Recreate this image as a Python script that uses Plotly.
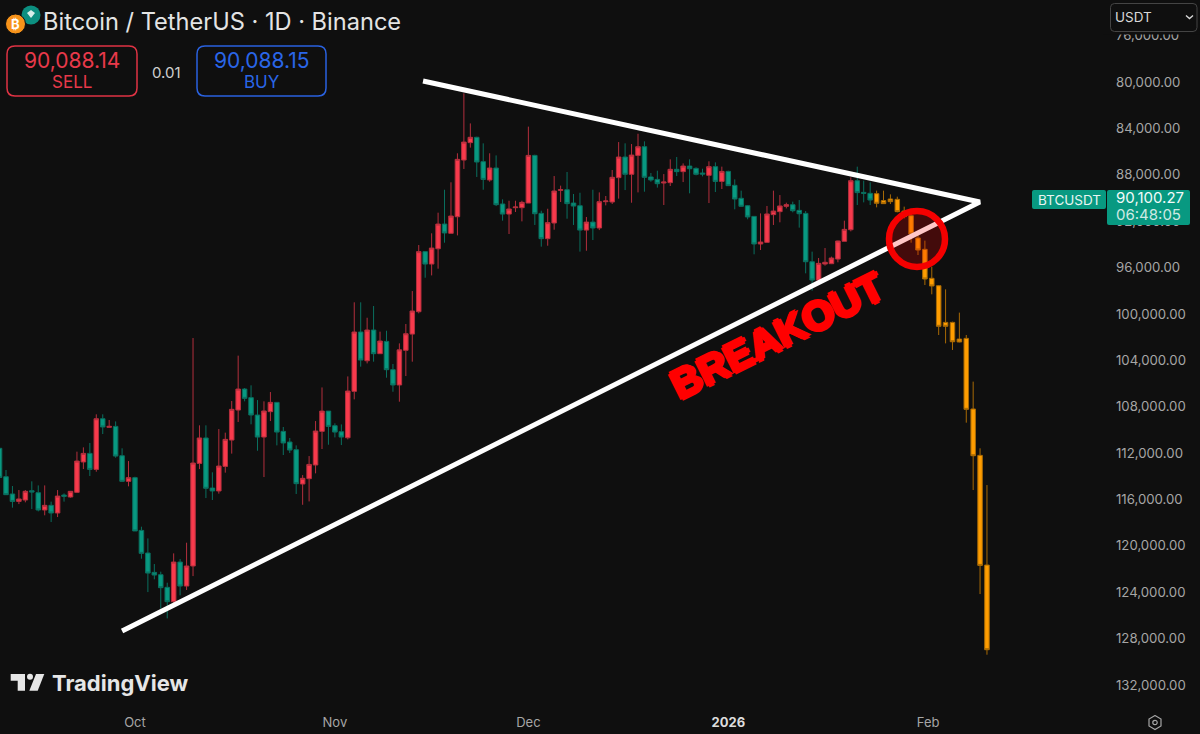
#!/usr/bin/env python3
"""BTCUSDT daily chart, inverted price scale, with triangle and breakout drawing"""

import pandas as pd
import plotly.graph_objects as go

BG = "#0f0f0f"
GREEN = "#089981"
RED = "#f83a4c"
ORANGE = "#ff9d00"
WHITE = "#e6e6e6"
GREY = "#a6a6a6"
UI_FONT = "Inter"

# daily candles from 2025-09-10
candle_start = "2025-09-10"
opens = [
    111590, 114040, 115530, 116170, 116050, 115250, 115420, 116910, 116510, 117170,
    115620, 115790, 115390, 112770, 112030, 113410, 109040, 109780, 109700, 112230,
    114440, 114120, 118670, 120620, 122290, 122490, 123580, 124820, 121400, 123470,
    121740, 112890, 110700, 115020, 115270, 113150, 110880, 108290, 106480, 107220,
    108720, 110620, 108430, 107630, 110130, 111050, 111710, 114670, 114210, 113030,
    110130, 108380, 109640, 110160, 110680, 106680, 101560, 104040, 101390, 103430,
    102370, 104810, 106130, 103140, 101740, 99810, 94630, 95700, 94380, 92250,
    93050, 91620, 86730, 85230, 84770, 86870, 88450, 87420, 90520, 91390,
    90840, 90840, 90440, 86330, 91330, 93510, 92160, 89340, 89290, 90440,
    90670, 92770, 92080, 92590, 90320, 90350, 88250, 86470, 87960, 86330,
    85580, 88190, 88400, 88710, 88680, 87530, 87730, 87250, 87450, 87850,
    88050, 87300, 88570, 87710, 88910, 90030, 90670, 91590, 93970, 93830,
    91440, 91180, 90720, 90580, 91070, 91330, 95500, 97080, 95700, 95670,
    95270, 93740, 92740, 88510, 89520, 89600,
]
highs = [
    114100, 115590, 116710, 116400, 116250, 116830, 117030, 117370, 117950, 117520,
    116190, 115850, 115450, 113380, 113980, 113610, 110360, 109780, 112400, 114440,
    114870, 118720, 121110, 123990, 122890, 125420, 126260, 124960, 124270, 123810,
    122610, 113380, 115880, 116050, 115500, 113690, 112050, 109320, 107540, 109520,
    111800, 114070, 109240, 111340, 112170, 112000, 115530, 116460, 116170, 113750,
    111650, 111280, 110650, 111310, 110820, 107370, 104550, 104270, 104120, 103460,
    105500, 106710, 107570, 105360, 104120, 99950, 96880, 96680, 96100, 93860,
    93050, 93230, 87500, 85660, 88190, 89290, 88600, 90700, 91960, 93110,
    91210, 92020, 90440, 92330, 94200, 94120, 92740, 90350, 91790, 92330,
    94630, 94550, 93630, 92770, 90640, 90520, 90060, 89320, 90410, 89520,
    89460, 88600, 89110, 90610, 88970, 88110, 88630, 89600, 88050, 88140,
    90440, 89490, 89230, 88970, 90980, 90750, 91840, 94860, 94490, 93860,
    92330, 92100, 90900, 91240, 92560, 96500, 98000, 97220, 95840, 95700,
    95550, 93740, 92880, 90610, 90380, 90610,
]
lows = [
    111590, 113460, 114840, 115190, 115190, 114440, 114790, 114790, 116190, 115190,
    115480, 115270, 111880, 111510, 111130, 108660, 108660, 109150, 109270, 111590,
    112690, 114040, 118350, 119360, 121570, 122230, 123180, 120650, 121140, 119730,
    102080, 109610, 109610, 113660, 109930, 110240, 107510, 103600, 106390, 106160,
    107430, 107540, 106740, 107630, 109750, 110700, 111340, 113900, 112260, 109240,
    106340, 108380, 109440, 109530, 105390, 99000, 99000, 100330, 99320, 101530,
    101450, 104320, 102540, 100870, 98030, 94060, 94630, 93050, 91270, 89290,
    88650, 86150, 80980, 83570, 84720, 85290, 86150, 86330, 90120, 90240,
    90240, 90240, 83850, 86270, 91100, 90930, 88110, 88940, 87760, 89660,
    89550, 91640, 89290, 89520, 89830, 87590, 85180, 85290, 85350, 84460,
    85120, 87850, 87650, 87940, 86670, 86470, 87020, 86670, 87360, 87480,
    86840, 86930, 87300, 87650, 88400, 89370, 90610, 91560, 91330, 90690,
    89370, 89750, 90410, 90320, 90180, 91130, 94630, 95180, 94320, 95060,
    93680, 91960, 88220, 87300, 88510, 88650,
]
closes = [
    114100, 115590, 116170, 115960, 115300, 115360, 116910, 116510, 117170, 115710,
    115730, 115300, 112690, 112030, 113410, 109040, 109750, 109700, 112260, 114440,
    114120, 118720, 120650, 122350, 122520, 123610, 124820, 121400, 123470, 121740,
    112860, 110700, 115040, 115270, 113120, 110820, 108230, 106480, 107280, 108720,
    110620, 108370, 107630, 110190, 111130, 111740, 114640, 114180, 112980, 110100,
    108380, 109700, 110190, 110620, 106650, 101560, 103980, 101390, 103430, 102340,
    104810, 106130, 103100, 101710, 99750, 94630, 95700, 94320, 92250, 93020,
    91560, 86670, 85180, 84770, 86900, 88400, 87420, 90580, 91390, 90950,
    90780, 90380, 86330, 91360, 93510, 92130, 89400, 89290, 90490, 90700,
    92770, 92080, 92590, 90320, 90260, 88220, 86470, 87960, 86300, 85580,
    88220, 88450, 88770, 88630, 87530, 87730, 87250, 87480, 87960, 87940,
    87300, 88570, 87710, 88940, 90090, 90720, 91640, 93970, 93800, 91380,
    91130, 90690, 90580, 91100, 91360, 95500, 97080, 95640, 95550, 95180,
    93710, 92710, 88510, 89540, 89600, 90180,
]

# pasted orange candles, slightly wider spaced than the real days
paste_start = "2026-01-24"
paste_freq = "1540min"
paste_open = [89630, 90230, 90090, 90120, 91130, 91530, 93450, 94430, 96930, 97570,
              100730, 100730, 102170, 102110, 108200, 112200, 121660]
paste_high = [90810, 90520, 90520, 91240, 91760, 93860, 94920, 97510, 98310, 101820,
              102540, 103110, 102450, 109380, 115190, 124160, 129390]
paste_low = [89370, 89370, 89690, 89890, 90750, 91330, 93050, 93680, 95930, 97510,
             97880, 100670, 99890, 101820, 105840, 111590, 114760]
paste_close = [90460, 90490, 90320, 91180, 91610, 93110, 94490, 96990, 97590, 101070,
               101070, 102400, 102420, 108230, 112230, 121690, 128960]

# triangle drawn on the chart: upper start, apex, lower start
triangle_dates = ["2025-11-14 16:00", "2026-02-09 00:00", "2025-09-29 00:00"]
triangle_prices = [79910, 90350, 127350]

price_ticks = list(range(76000, 136000, 4000))
date_ticks = ["2025-10-01", "2025-11-01", "2025-12-01", "2026-01-01", "2026-02-01"]
date_labels = ["Oct", "Nov", "Dec", "<span style='color:#dcdcdc'><b>2026</b></span>", "Feb"]

# plot area in page pixels, the rest of the page is the axis gutters
PLOT_W = 1112
PLOT_H = 705


def px(x):
    return x / PLOT_W


def py(y):
    return 1 - y / PLOT_H


def label(text, x, y, size=13, color=WHITE, anchor="center", **kwargs):
    return dict(
        text=text, xref="paper", yref="paper", x=px(x), y=py(y), showarrow=False,
        xanchor=anchor, yanchor="middle", font=dict(family=UI_FONT, size=size, color=color),
        **kwargs,
    )


def rect(x0, y0, x1, y1, color, fill=None, width=1.5):
    return dict(
        type="rect", xref="paper", yref="paper", x0=px(x0), x1=px(x1), y0=py(y0), y1=py(y1),
        line=dict(color=color, width=width), fillcolor=fill or "rgba(0,0,0,0)",
    )


def round_rect(x0, y0, x1, y1, r, color, fill=None, width=1.5):
    pts = [
        f"M{px(x0 + r)},{py(y0)}", f"L{px(x1 - r)},{py(y0)}",
        f"Q{px(x1)},{py(y0)} {px(x1)},{py(y0 + r)}", f"L{px(x1)},{py(y1 - r)}",
        f"Q{px(x1)},{py(y1)} {px(x1 - r)},{py(y1)}", f"L{px(x0 + r)},{py(y1)}",
        f"Q{px(x0)},{py(y1)} {px(x0)},{py(y1 - r)}", f"L{px(x0)},{py(y0 + r)}",
        f"Q{px(x0)},{py(y0)} {px(x0 + r)},{py(y0)}", "Z",
    ]
    return dict(
        type="path", xref="paper", yref="paper", path=" ".join(pts),
        line=dict(color=color, width=width), fillcolor=fill or "rgba(0,0,0,0)",
    )


def poly(points, color=None, fill=None, width=0):
    path = "M" + " L".join(f"{px(x)},{py(y)}" for x, y in points)
    if fill:
        path += " Z"
    return dict(
        type="path", xref="paper", yref="paper", path=path,
        line=dict(color=color or "rgba(0,0,0,0)", width=width),
        fillcolor=fill or "rgba(0,0,0,0)",
    )


def circle(cx, cy, r, fill=None, color=None, width=0):
    return dict(
        type="circle", xref="paper", yref="paper",
        x0=px(cx - r), x1=px(cx + r), y0=py(cy - r), y1=py(cy + r),
        line=dict(color=color or "rgba(0,0,0,0)", width=width),
        fillcolor=fill or "rgba(0,0,0,0)",
    )


fig = go.Figure()

fig.add_trace(go.Candlestick(
    x=pd.date_range(candle_start, periods=len(opens), freq="D"),
    open=opens, high=highs, low=lows, close=closes,
    increasing=dict(line=dict(color="#0a6f5f", width=1), fillcolor=GREEN),
    decreasing=dict(line=dict(color="#b32f3d", width=1), fillcolor=RED),
    whiskerwidth=0, hoverinfo="skip", showlegend=False,
))
fig.add_trace(go.Candlestick(
    x=pd.date_range(paste_start, periods=len(paste_open), freq=paste_freq),
    open=paste_open, high=paste_high, low=paste_low, close=paste_close,
    increasing=dict(line=dict(color="#a86a05", width=1), fillcolor=ORANGE),
    decreasing=dict(line=dict(color="#a86a05", width=1), fillcolor=ORANGE),
    whiskerwidth=0, hoverinfo="skip", showlegend=False,
))
fig.add_trace(go.Scatter(
    x=triangle_dates, y=triangle_prices, mode="lines",
    line=dict(color="white", width=5), hoverinfo="skip", showlegend=False,
))

shapes = [
    # breakout ring
    circle(917, 239, 28, fill="rgba(255,0,0,0.22)", color="#f50000", width=6.5),
    # symbol icons
    circle(31, 15, 9.5, fill="#0c8f80"),
    poly([(27, 13), (31, 10), (35, 13), (31, 18)], fill="#d8eeea"),
    circle(15.5, 24, 10, fill="#f7931a", color=BG, width=1),
    # sell / buy boxes
    round_rect(7, 46, 137, 96, 8, "#e03344"),
    round_rect(197, 46, 326, 96, 8, "#2a62e0"),
    # currency dropdown, hides the clipped tick beneath it
    rect(1103, 0, 1200, 34.5, BG, fill=BG, width=0),
    round_rect(1110.5, 3.5, 1197, 31.5, 4, "#444444", fill=BG, width=1),
    poly([(1186, 15.5), (1189.5, 18.5), (1193, 15.5)], color="#d8d8d8", width=1.4),
    # last price tag
    round_rect(1032, 190, 1106, 209, 2, GREEN, fill=GREEN, width=0),
    round_rect(1107, 190, 1190, 225, 2, GREEN, fill=GREEN, width=0),
    # TradingView mark
    poly([(10.7, 674), (25, 674), (25, 690.7), (17.7, 690.7), (17.7, 680.7), (10.7, 680.7)], fill="#e6e6e6"),
    circle(30, 676.7, 3, fill="#e6e6e6"),
    poly([(36, 674), (44.3, 674), (37.7, 690.7), (29.3, 690.7)], fill="#e6e6e6"),
    # settings icon
    poly([(1155, 715.5), (1161, 719), (1161, 726), (1155, 729.5), (1149, 726), (1149, 719), (1155, 715.5)],
         color="#a6a6a6", width=1.2),
    circle(1155, 722.5, 2.2, color="#a6a6a6", width=1.2),
]

annotations = [
    label("Bitcoin / TetherUS · 1D · Binance", 41, 21.5, size=23.6, color="#e4e4e4", anchor="left"),
    label("<b>₿</b>", 15.5, 24, size=13, color="white"),
    label("90,088.14", 72, 60.5, size=21, color="#e8394a"),
    label("SELL", 72, 82, size=17, color="#e8394a"),
    label("0.01", 166, 72, size=15, color="#d0d0d0"),
    label("90,088.15", 261.5, 60.5, size=21, color="#2a66e8"),
    label("BUY", 261.5, 82, size=17, color="#2a66e8"),
    label("USDT", 1113, 17.5, size=13.5, color="#d8d8d8", anchor="left"),
    label("BTCUSDT", 1036, 199.5, size=13.5, color="#e8f5f2", anchor="left"),
    label("90,100.27", 1114, 198, size=15, color="#f2fbf9", anchor="left"),
    label("06:48:05", 1114, 214, size=15, color="#cfeae4", anchor="left"),
    label("<b>TradingView</b>", 50, 683, size=22, color="#e6e6e6", anchor="left"),
]
breakout = label("BREAKOUT", 777, 336, size=41, color="#ff0000", textangle=-26.5)
breakout["font"].update(family="Liberation Sans", weight=700,
                        shadow="2px 0 #ff0000, -2px 0 #ff0000, 0 2px #ff0000, 0 -2px #ff0000")
annotations.append(breakout)

fig.update_layout(
    width=1200,
    height=734,
    margin=dict(l=0, r=88, t=0, b=29),
    paper_bgcolor=BG,
    plot_bgcolor=BG,
    showlegend=False,
    boxgap=0,
    shapes=shapes,
    annotations=annotations,
    xaxis=dict(
        type="date",
        range=["2025-09-10 01:40", "2026-03-01 12:00"],
        rangeslider=dict(visible=False),
        tickmode="array", tickvals=date_ticks, ticktext=date_labels,
        tickfont=dict(family=UI_FONT, size=13, color=GREY),
        ticklabelstandoff=8,
        showgrid=False, zeroline=False, showline=False, ticks="",
    ),
    yaxis=dict(
        side="right",
        range=[133728, 72928],
        tickmode="array", tickvals=price_ticks,
        tickformat=",.2f",
        tickfont=dict(family=UI_FONT, size=13.2, color=GREY),
        ticklabelstandoff=3,
        showgrid=False, zeroline=False, showline=False, ticks="",
    ),
)

fig.write_html("out.html", config=dict(displayModeBar=False),
               post_script="document.body.style.margin='0'")
